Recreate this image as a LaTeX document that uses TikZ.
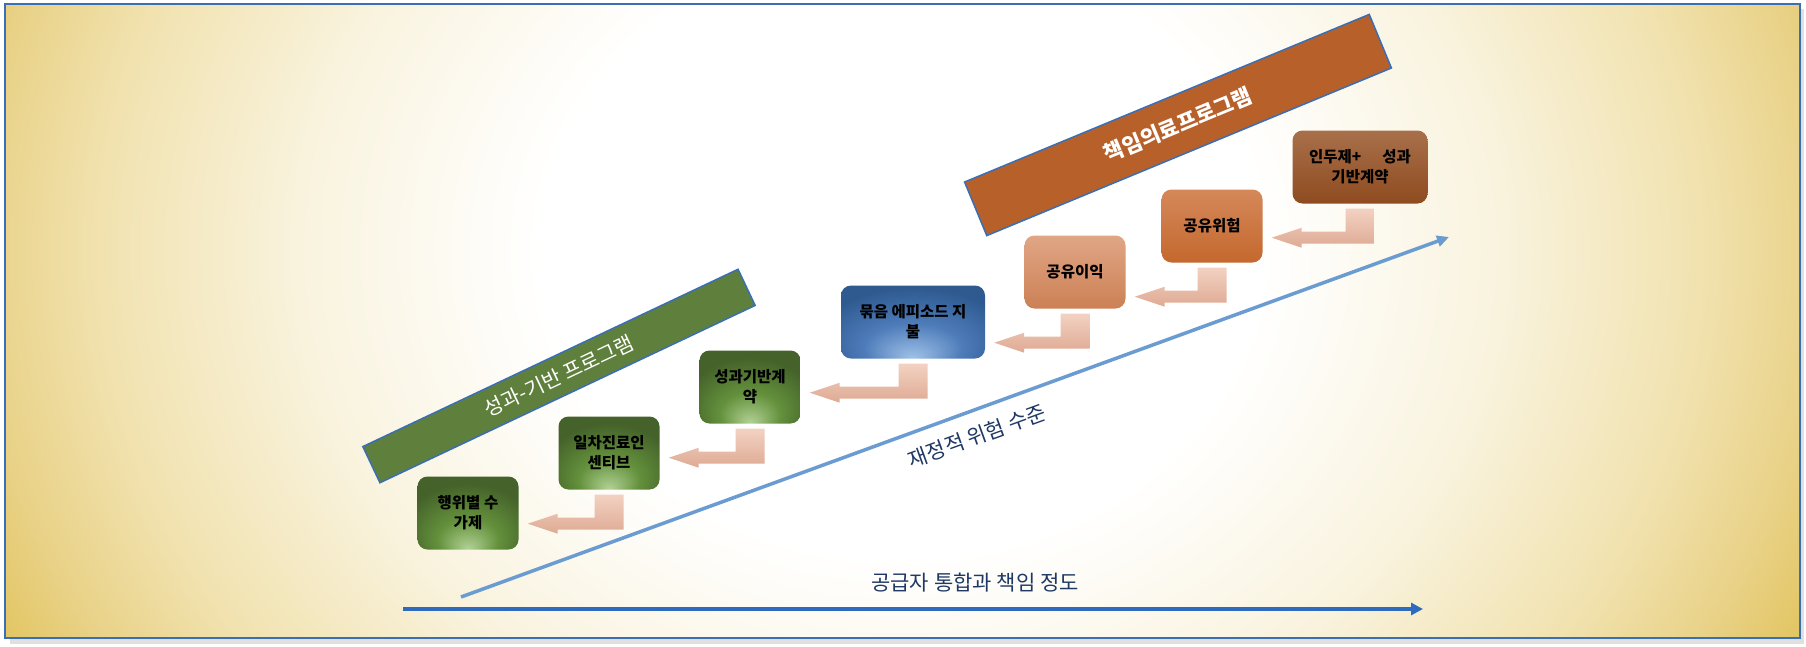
\documentclass[tikz,border=0pt]{standalone}
\usepackage{fontspec}
\setmainfont{Noto Sans CJK KR}
\usetikzlibrary{arrows.meta, calc}
\definecolor{bgcream}{RGB}{249,243,222}
\definecolor{bgsand}{RGB}{241,226,175}
\definecolor{bglight}{RGB}{233,210,136}
\definecolor{bggold}{RGB}{224,192,84}
\definecolor{frameblue}{RGB}{58,110,181}
\definecolor{pfpgreen}{RGB}{95,127,61}
\definecolor{acoorange}{RGB}{184,96,42}
\definecolor{riskblue}{RGB}{106,155,209}
\definecolor{axisblue}{RGB}{46,107,190}
\definecolor{labelnavy}{RGB}{31,56,100}
\definecolor{arrtop}{RGB}{243,209,194}
\definecolor{arrbot}{RGB}{222,170,148}
\definecolor{grnglow}{RGB}{178,210,150}
\definecolor{grnmid}{RGB}{100,145,60}
\definecolor{grndark}{RGB}{68,98,42}
\definecolor{bluglow}{RGB}{160,194,232}
\definecolor{blumid}{RGB}{78,124,186}
\definecolor{bludark}{RGB}{46,90,144}
\definecolor{gaintop}{RGB}{224,166,133}
\definecolor{gainbot}{RGB}{204,128,85}
\definecolor{risktop}{RGB}{213,136,90}
\definecolor{riskbot}{RGB}{196,104,46}
\definecolor{captop}{RGB}{168,112,74}
\definecolor{capbot}{RGB}{143,75,32}

\pgfdeclareradialshading{bgglow}{\pgfpoint{0bp}{0bp}}{color(0bp)=(white); color(9bp)=(white); color(15bp)=(bgcream); color(20bp)=(bgsand); color(23bp)=(bglight); color(26bp)=(bggold); color(50bp)=(bggold)}
\pgfdeclareradialshading{greenglow}{\pgfpoint{0bp}{-25bp}}{color(0bp)=(grnglow); color(15bp)=(grnmid); color(32bp)=(grndark); color(60bp)=(grndark)}
\pgfdeclareradialshading{blueglow}{\pgfpoint{0bp}{-25bp}}{color(0bp)=(bluglow); color(17bp)=(blumid); color(34bp)=(bludark); color(60bp)=(bludark)}

\tikzset{
  stepbox/.style={rounded corners=10pt, minimum width=101pt, minimum height=73pt, inner sep=2pt,
    align=center, font=\bfseries\fontsize{15.5}{20}\selectfont},
  greenbox/.style={stepbox, shade, shading=greenglow},
  bluebox/.style={stepbox, shade, shading=blueglow, minimum width=144pt},
  banner/.style={draw=frameblue, line width=1.5pt, text=white, inner sep=0pt},
  backflow/.style={top color=arrtop, bottom color=arrbot},
  riskline/.style={riskblue, line width=3.5pt, -{Triangle[length=12pt,width=11pt]}},
  axisline/.style={axisblue, line width=4pt, -{Triangle[length=12pt,width=12pt]}},
  axislabel/.style={labelnavy, font=\fontsize{21}{24}\selectfont}
}

% bent arrow from the bottom of #1 back to the right side of #2
\newcommand{\backarrow}[2]{%
  \coordinate (stemtop) at ($(#1.south)+(0,5)$);
  \coordinate (stembot) at ($(stemtop)+(0,35)$);
  \coordinate (tip) at ($(#2.east |- stembot)+(9,-6)$);
  \shade[backflow] ($(stemtop)+(-14.5,0)$) -- ($(stemtop)+(14.5,0)$) -- ($(stembot)+(14.5,0)$)
    -- ($(tip |- stembot)+(30,0)$) -- ($(tip)+(30,10)$) -- (tip) -- ($(tip)+(30,-10)$)
    -- ($(tip |- stembot)+(30,-12)$) -- ($(stembot)+(-14.5,-12)$) -- cycle;
}

\begin{document}
\begin{tikzpicture}[x=1pt, y=-1pt]
\useasboundingbox (0,0) rectangle (1806,646);

% === Fondo ===
\fill[black!12] (10,638) rectangle (1804,644);
\fill[black!12] (1800,9) rectangle (1804,644);
\begin{scope}
  \clip (5,4) rectangle (1800,638);
  \shade[shading=bgglow] (-100,-600) rectangle (1900,1100);
\end{scope}
\draw[frameblue, line width=2.5pt] (5,4) rectangle (1800,638);

% === Bandas ===
\node[banner, fill=pfpgreen, minimum width=415pt, minimum height=40pt, rotate=25.3,
  font=\fontsize{20.5}{24}\selectfont] (pfp) at (559,376) {성과-기반 프로그램};
\node[banner, fill=acoorange, minimum width=438pt, minimum height=58pt, rotate=22.5,
  font=\bfseries\fontsize{21.5}{24}\selectfont] (aco) at (1178,125) {책임의료프로그램};

% === Pasos ===
\node[greenbox] (ffs) at (468,513) {행위별 수\\가제};
\node[greenbox] (pcp) at (609,453) {일차진료인\\센티브};
\node[greenbox] (pbc) at (750,387) {성과기반계\\약};
\node[bluebox] (bundle) at (913,322) {묶음 에피소드 지\\불};
\node[stepbox, top color=gaintop, bottom color=gainbot] (gain) at (1075,272) {공유이익};
\node[stepbox, top color=risktop, bottom color=riskbot] (risk) at (1212,226) {공유위험};
\node[stepbox, top color=captop, bottom color=capbot, minimum width=135pt] (cap) at (1360,167)
  {인두제+\hspace{21pt}성과\\기반계약};

% === Flechas entre pasos ===
\backarrow{pcp}{ffs}
\backarrow{pbc}{pcp}
\backarrow{bundle}{pbc}
\backarrow{gain}{bundle}
\backarrow{risk}{gain}
\backarrow{cap}{risk}

% === Ejes ===
\coordinate (riskstart) at (461,597);
\coordinate (riskend) at (1449,237);
\draw[riskline] (riskstart) -- (riskend);
\node[axislabel, rotate=20] (risklbl) at (977,436) {재정적 위험 수준};

\coordinate (axisstart) at (403,609);
\coordinate (axisend) at (1423,609);
\draw[axisline] (axisstart) -- (axisend);
\node[axislabel] (axislbl) at (975,583) {공급자 통합과 책임 정도};

\end{tikzpicture}
\end{document}
